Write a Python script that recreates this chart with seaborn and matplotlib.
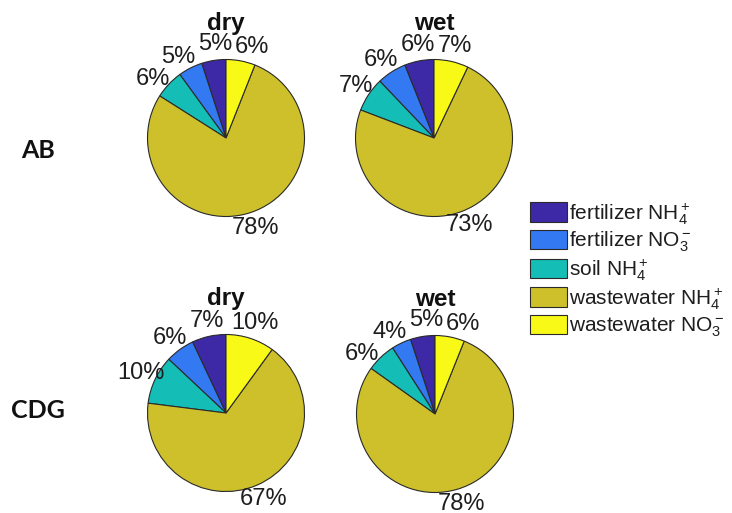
import matplotlib
matplotlib.use("Agg")
import numpy as np
import matplotlib.pyplot as plt
import seaborn as sns

sns.set_theme(style="white")
plt.rcParams['font.family'] = ['Liberation Sans', 'DejaVu Sans']
plt.rcParams['mathtext.fontset'] = 'custom'
plt.rcParams['mathtext.rm'] = 'Liberation Sans'
plt.rcParams['mathtext.it'] = 'Liberation Sans:italic'
plt.rcParams['mathtext.bf'] = 'Liberation Sans:bold'

categories = ["fertilizer NH$_4^+$", "fertilizer NO$_3^-$", "soil NH$_4^+$",
              "wastewater NH$_4^+$", "wastewater NO$_3^-$"]
ab_dry = [5, 5, 6, 78, 6]
ab_wet = [6, 6, 7, 73, 7]
cdg_dry = [7, 6, 10, 67, 10]
cdg_wet = [5, 4, 6, 78, 6]
col_titles = ["dry", "wet"]
row_labels = ["AB", "CDG"]
colors = ["#3d28a6", "#3279f2", "#14bdb5", "#cdc02b", "#f8f916"]

W, H = 732, 513
fig = plt.figure(figsize=(W / 100, H / 100), dpi=100)

R = 78.5  # pixel radius
LD = 1.2  # label distance (in radii)
centers = {(0, 0): (226, 138), (0, 1): (434, 138),
           (1, 0): (226, 413), (1, 1): (435, 414)}
data = {(0, 0): ab_dry, (0, 1): ab_wet, (1, 0): cdg_dry, (1, 1): cdg_wet}

fig.canvas.draw()
renderer = fig.canvas.get_renderer()


def spread_labels(texts, wedges):
    """Rotate neighbouring percentage labels apart until their boxes no longer overlap."""
    ang = [np.deg2rad((w.theta1 + w.theta2) / 2) for w in wedges]
    sizes = []
    for t in texts:
        bb = t.get_window_extent(renderer)
        sizes.append((bb.width / R, bb.height / R))
    n = len(texts)
    pairs = [(i, (i + 1) % n) for i in range(n)]  # (cw label, ccw label)
    step = np.deg2rad(0.4)
    pad = 2.0 / R
    for _ in range(300):
        moved = False
        for a, b in pairs:
            xa, ya = LD * np.cos(ang[a]), LD * np.sin(ang[a])
            xb, yb = LD * np.cos(ang[b]), LD * np.sin(ang[b])
            ox = (sizes[a][0] + sizes[b][0]) / 2 + pad - abs(xa - xb)
            oy = (sizes[a][1] + sizes[b][1]) / 2 - abs(ya - yb)
            if ox > 0 and oy > 0:
                ang[a] -= step
                ang[b] += step
                moved = True
        if not moved:
            break
    for t, th in zip(texts, ang):
        t.set_position((LD * np.cos(th), LD * np.sin(th)))


wedges_ref = None
for (r, c), vals in data.items():
    cx, cy = centers[(r, c)]
    half = 1.6 * R
    ax = fig.add_axes([(cx - half) / W, 1 - (cy + half) / H, 2 * half / W, 2 * half / H])
    wedges, texts = ax.pie(vals, colors=colors, startangle=90, counterclock=True,
                           labels=[f"{v}%" for v in vals], labeldistance=LD,
                           wedgeprops=dict(edgecolor="#2a2a2a", linewidth=0.8),
                           textprops=dict(fontsize=17, color="#1e1e1e"))
    for t in texts:
        t.set_ha("center")
        t.set_va("center")
    ax.set_xlim(-1.6, 1.6)
    ax.set_ylim(-1.6, 1.6)
    ax.set_aspect("equal")
    ax.axis("off")
    spread_labels(texts, wedges)
    ax.text(0, 1.46, col_titles[c], ha="center", va="center", fontsize=17.5,
            fontweight="bold", color="#111111")
    wedges_ref = wedges

fig.text(38 / W, 1 - 151 / H, row_labels[0], ha="center", va="center",
         fontsize=18, fontweight="bold", color="#111111", family=["Lato", "DejaVu Sans"])
fig.text(38 / W, 1 - 411 / H, row_labels[1], ha="center", va="center",
         fontsize=18, fontweight="bold", color="#111111", family=["Lato", "DejaVu Sans"])

leg = fig.legend(wedges_ref, categories, loc="upper left",
                 bbox_to_anchor=(528 / W, 1 - 199 / H), frameon=False,
                 fontsize=15, handlelength=1.75, handleheight=1.05,
                 handletextpad=0.1, labelspacing=0.15, borderpad=0.1,
                 borderaxespad=0)
for t in leg.get_texts():
    t.set_color("#1e1e1e")

fig.savefig("out.png", dpi=100)
